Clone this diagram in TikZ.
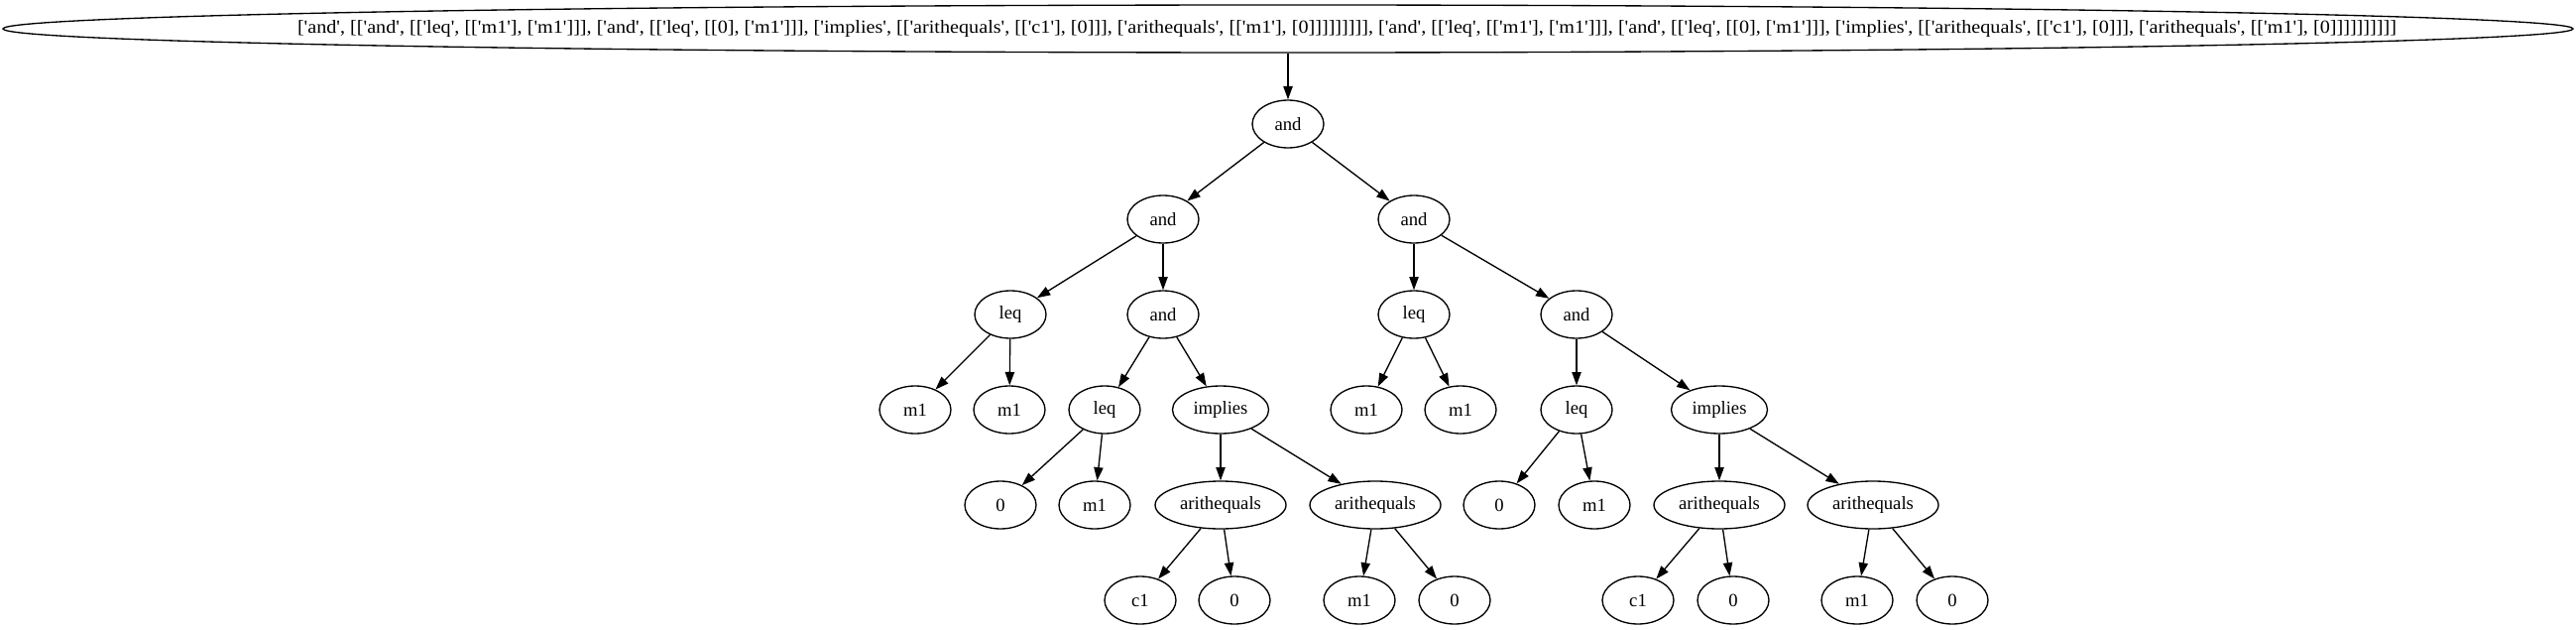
\documentclass[tikz,border=0pt]{standalone}
\usepackage{graphicx}
\usepackage{fontspec}
\setmainfont{Liberation Serif}[Ligatures=TeXOff]
\usetikzlibrary{
arrows.meta,
shapes.geometric
}

\begin{document}
\begin{tikzpicture}[
    x=0.75pt,
    y=-0.75pt,
    font=\fontsize{14}{16}\selectfont,
    tnode/.style={
        draw,
        ellipse,
        line width=1pt,
        inner sep=0pt,
        minimum height=36pt
    },
    arr/.style={
        -{Triangle[length=10pt,width=7pt]},
        line width=1pt
    }
]

% Canvas
\useasboundingbox (0,0) rectangle (2598,635);

% Whole expression
\node[
    tnode,
    minimum width=1944pt
]
(top) at (1299,29)
{\makebox[0pt][l]{\hspace*{-749.25pt}\resizebox{1587.75pt}{\height}{['and', [['and', [['leq', [['m1'], ['m1']]], ['and', [['leq', [[0], ['m1']]], ['implies', [['arithequals', [['c1'], [0]]], ['arithequals', [['m1'], [0]]]]]]]]], ['and', [['leq', [['m1'], ['m1']]], ['and', [['leq', [[0], ['m1']]], ['implies', [['arithequals', [['c1'], [0]]], ['arithequals', [['m1'], [0]]]]]]]]]]}}};

% Tree nodes
\foreach \name/\x/\y/\w/\lab in {
n0/1299/125/54pt/and,
n1/1173/221/54pt/and,
n2/1426/221/54pt/and,
n11/1019/317/54pt/leq,
n12/1173/317/54pt/and,
n21/1426/317/54pt/leq,
n22/1590/317/54pt/and,
n111/923/413/54pt/m1,
n112/1018/413/54pt/m1,
n121/1114/413/54pt/leq,
n122/1231/413/72.75pt/implies,
n211/1378/413/54pt/m1,
n212/1473/413/54pt/m1,
n221/1590/413/54pt/leq,
n222/1734/413/72.75pt/implies,
n1211/1009/509/54pt/0,
n1212/1104/509/54pt/m1,
n1221/1231/509/99pt/arithequals,
n1222/1387/509/99pt/arithequals,
n2211/1512/509/54pt/0,
n2212/1608/509/54pt/m1,
n2221/1734/509/99pt/arithequals,
n2222/1889/509/99pt/arithequals,
n12211/1150/605/54pt/c1,
n12212/1245/605/54pt/0,
n12221/1371/605/54pt/m1,
n12222/1467/605/54pt/0,
n22211/1652/605/54pt/c1,
n22212/1748/605/54pt/0,
n22221/1873/605/54pt/m1,
n22222/1969/605/54pt/0}{
    \node[
        tnode,
        minimum width=\w
    ]
    (\name) at (\x,\y)
    {\lab};
}

% Edges
\foreach \a/\b in {
top/n0,
n0/n1, n0/n2,
n1/n11, n1/n12,
n11/n111, n11/n112,
n12/n121, n12/n122,
n121/n1211, n121/n1212,
n122/n1221, n122/n1222,
n1221/n12211, n1221/n12212,
n1222/n12221, n1222/n12222,
n2/n21, n2/n22,
n21/n211, n21/n212,
n22/n221, n22/n222,
n221/n2211, n221/n2212,
n222/n2221, n222/n2222,
n2221/n22211, n2221/n22212,
n2222/n22221, n2222/n22222}{
    \draw[arr] (\a) -- (\b);
}

\end{tikzpicture}
\end{document}
